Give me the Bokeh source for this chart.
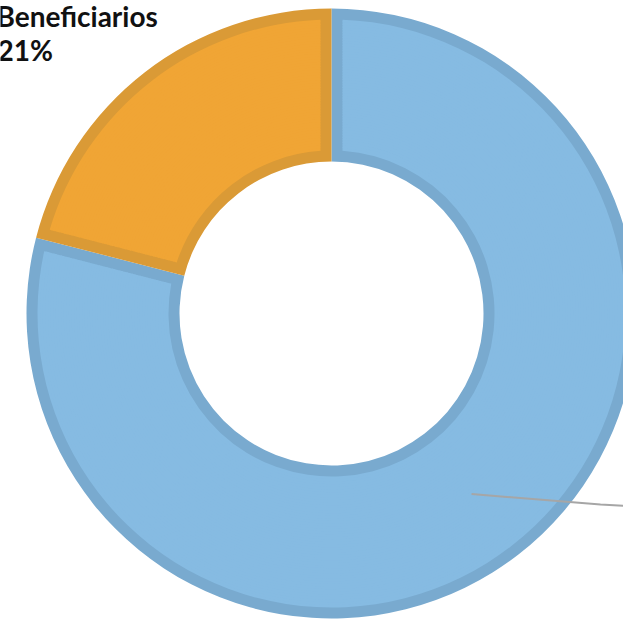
import math
from bokeh.plotting import figure
from bokeh.models import ColumnDataSource, Range1d
from bokeh.core.properties import value
from bokeh.embed import file_html
from bokeh.resources import INLINE

# ---- data ----
categories = ["No beneficiarios", "Beneficiarios"]
values = [79, 21]
fill_colors = ["#86BBE2", "#F0A535"]
border_colors = ["#79AACF", "#DA9A36"]
shown_labels = ["Beneficiarios"]

# ---- layout (pixel-based data space) ----
W, H = 623, 620
CX, CY = 331, H - 313
R_OUT, R_IN = 305, 152
BORDER = 11

p = figure(width=W, height=H, output_backend="svg", toolbar_location=None,
           x_range=Range1d(0, W), y_range=Range1d(0, H),
           min_border=0, outline_line_color=None)
p.axis.visible = False
p.grid.visible = False
p.background_fill_color = "white"
p.border_fill_color = "white"

# slice angles: first slice clockwise from 12 o'clock (Excel style)
total = float(sum(values))
starts, ends = [], []
cur = math.pi / 2
for v in values:
    sweep = 2 * math.pi * v / total
    starts.append(cur - sweep)
    ends.append(cur)
    cur -= sweep

# base (border colour) wedges
base = ColumnDataSource(dict(x=[CX] * len(values), y=[CY] * len(values),
                             s=starts, e=ends, c=border_colors))
p.annular_wedge(x="x", y="y", inner_radius=R_IN, outer_radius=R_OUT,
                start_angle="s", end_angle="e", fill_color="c",
                line_color=None, source=base)

# inset fills (rings so the radial borders keep constant width)
N = 50
rx, ry, ri, ro, rs, re, rc = [], [], [], [], [], [], []
r0, r1 = R_IN + BORDER, R_OUT - BORDER
step = (r1 - r0) / N
for i in range(len(values)):
    for k in range(N):
        a = r0 + k * step
        b = a + step
        mid = (a + b) / 2
        delta = math.asin(BORDER / mid)
        rx.append(CX); ry.append(CY)
        ri.append(a); ro.append(min(b + 0.8, r1))
        rs.append(starts[i] + delta); re.append(ends[i] - delta)
        rc.append(fill_colors[i])
rings = ColumnDataSource(dict(x=rx, y=ry, ri=ri, ro=ro, s=rs, e=re, c=rc))
p.annular_wedge(x="x", y="y", inner_radius="ri", outer_radius="ro",
                start_angle="s", end_angle="e", fill_color="c",
                line_color=None, source=rings)

# leader line for the (off-canvas) label of the first slice
mid_ang = (starts[0] + ends[0]) / 2
rm = (R_IN + R_OUT) / 2
lx = [CX + rm * math.cos(mid_ang), 600, 626]
ly = [CY + rm * math.sin(mid_ang), H - 504, H - 505.5]
p.line(lx, ly, line_color="#A6A6A6", line_width=2)

# data label of the second slice
lab_txt = [shown_labels[0], f"{values[1]}%"]
lab = ColumnDataSource(dict(x=[-4, -3], y=[H - 15, H - 49], t=lab_txt))
p.text(x="x", y="y", text="t", source=lab, text_font=value("Lato"),
       text_font_style="bold", text_font_size="28px", text_color="#111111",
       text_baseline="alphabetic", text_align="left")

open("out.html", "w").write(file_html(p, INLINE))
